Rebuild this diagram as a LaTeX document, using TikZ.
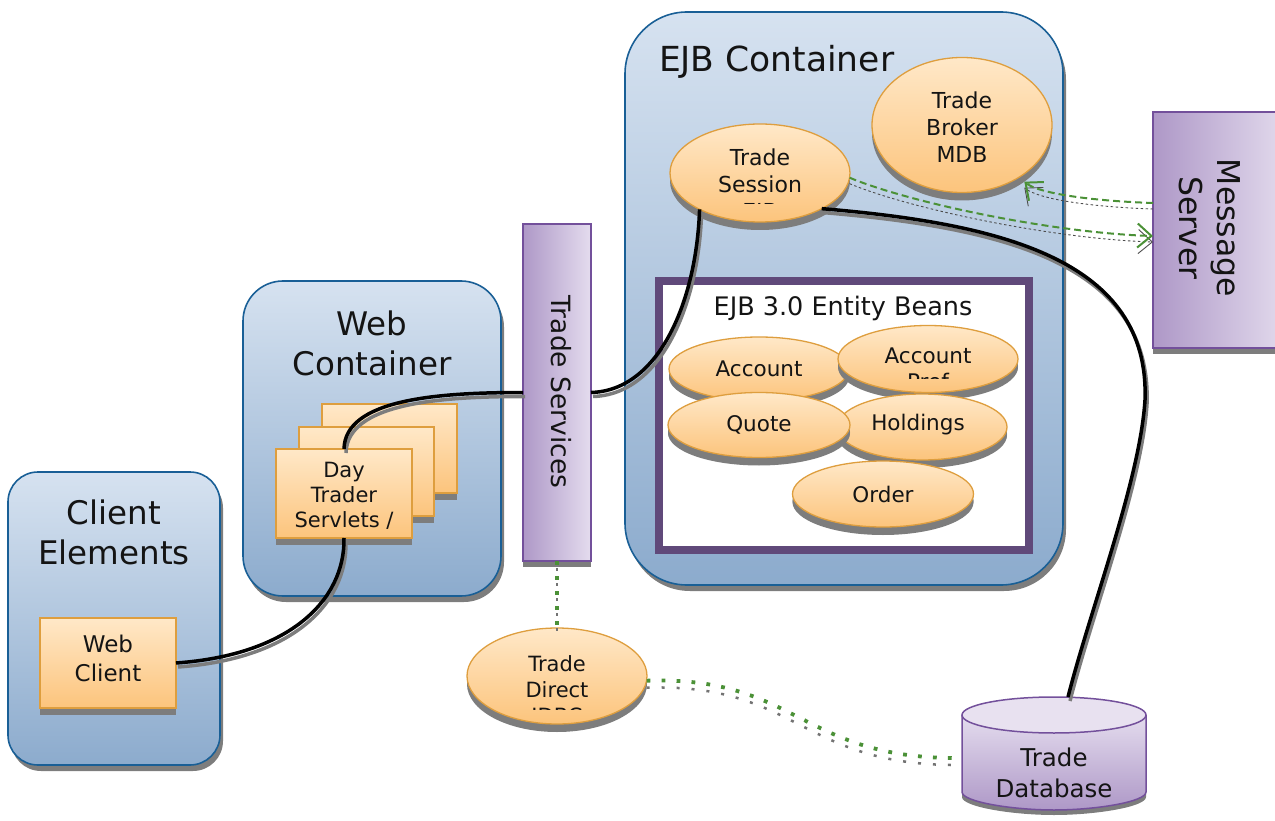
\documentclass[tikz,border=0pt]{standalone}
\usepackage{fontspec}
\setmainfont{DejaVu Sans}
\usetikzlibrary{shapes.geometric,arrows.meta,shadows}
\definecolor{cblueT}{RGB}{214,226,240}
\definecolor{cblueB}{RGB}{140,171,205}
\definecolor{cblueL}{RGB}{25,95,150}
\definecolor{corT}{RGB}{255,232,200}
\definecolor{corB}{RGB}{252,196,124}
\definecolor{corL}{RGB}{222,158,62}
\definecolor{cpuL}{RGB}{174,152,199}
\definecolor{cpuR}{RGB}{228,220,238}
\definecolor{cpuLine}{RGB}{115,80,155}
\definecolor{cframe}{RGB}{96,73,122}
\definecolor{cgreen}{RGB}{75,145,55}
\definecolor{cshad}{RGB}{125,125,125}
\definecolor{ctext}{RGB}{20,20,20}
\begin{document}
\begin{tikzpicture}[x=1pt,y=-1pt,
  every node/.style={inner sep=0pt, outer sep=0pt, text=ctext},
  container/.style={draw=cblueL, line width=1.6pt, top color=cblueT, bottom color=cblueB,
    drop shadow={shadow xshift=3pt,shadow yshift=-6pt,fill=cshad,opacity=1}},
  obox/.style={draw=corL, line width=1.3pt, top color=corT, bottom color=corB,
    drop shadow={shadow xshift=0pt,shadow yshift=-7pt,fill=cshad,opacity=1}},
  oell/.style={ellipse, draw=corL, line width=1.3pt, top color=corT, bottom color=corB,
    drop shadow={shadow xshift=0pt,shadow yshift=-8pt,fill=cshad,opacity=1}},
  bean/.style={oell, drop shadow={shadow xshift=0pt,shadow yshift=-7pt,fill=cshad,opacity=1}},
  pbar/.style={draw=cpuLine, line width=1.3pt, left color=cpuL, right color=cpuR,
    drop shadow={shadow xshift=0pt,shadow yshift=-6pt,fill=cshad,opacity=1}},
  bigtitle/.style={font=\fontsize{32.5}{40}\selectfont, align=center},
  lbl/.style={font=\fontsize{21.5}{26.5}\selectfont, align=center},
  wire/.style={line width=3.5pt, black},
  wireshadow/.style={line width=3.5pt, cshad, transform canvas={xshift=2pt,yshift=-4pt}},
  msgarrow/.style={cgreen, line width=2pt, dash pattern=on 7pt off 4pt,
    -{Straight Barb[length=14pt,width=24pt,line width=2pt]}},
  msgshadow/.style={black!70, line width=0.9pt, dash pattern=on 2.5pt off 2.5pt,
    -{Straight Barb[length=14pt,width=24pt,line width=0.9pt]}, transform canvas={yshift=-6pt}},
  jdbc/.style={cgreen, line width=3.8pt, dash pattern=on 3.8pt off 11.2pt},
  jdbcshadow/.style={black!55, line width=2.5pt, dash pattern=on 3pt off 12pt, transform canvas={yshift=-7pt}}
]
\useasboundingbox (0,0) rectangle (1275,821);

% containers
\node[container, rounded corners=30pt, minimum width=212pt, minimum height=293pt] (client) at (114,618.5) {};
\node[container, rounded corners=40pt, minimum width=258pt, minimum height=315pt] (web) at (372,438.5) {};
\node[container, rounded corners=62pt, minimum width=438pt, minimum height=573pt] (ejb) at (844,298.5) {};

\node[bigtitle] (clienttitle) at (114,532) {Client\\Elements};
\node[bigtitle] (webtitle) at (372,343) {Web\\Container};
\node[font=\fontsize{34.5}{40}\selectfont, anchor=west] (ejbtitle) at (659,62) {EJB Container};

% web client
\node[obox, minimum width=136pt, minimum height=90pt] (webclient) at (108,663) {};
\node[font=\fontsize{23}{29}\selectfont, align=center] (webclienttxt) at (108,658) {Web\\Client};

% servlets
\node[obox, minimum width=135pt, minimum height=89pt] (servback) at (389.5,448.5) {};
\node[obox, minimum width=135pt, minimum height=89pt] (servmid) at (366.5,471.5) {};
\node[obox, minimum width=136pt, minimum height=89pt] (servfront) at (344,493.5) {};
\node[font=\fontsize{21}{25}\selectfont, align=center] (servtxt) at (344,496) {Day\\Trader\\Servlets /};

% trade services
\node[pbar, minimum width=68pt, minimum height=337pt] (services) at (557,392.5) {};
\node[rotate=-90, font=\fontsize{26.5}{30}\selectfont] (servicestxt) at (561,392) {Trade Services};

% trade session & broker
\node[oell, minimum width=180pt, minimum height=98pt] (session) at (760,173) {};
\begin{scope}
  \clip (660,120) rectangle (860,203.5);
  \node[lbl, font=\fontsize{22}{27}\selectfont] (sessiontxt) at (760,186) {Trade\\Session\\EJB};
\end{scope}
\node[oell, minimum width=180pt, minimum height=135pt] (broker) at (962,125) {};
\node[lbl, font=\fontsize{22}{27}\selectfont] (brokertxt) at (962,127) {Trade\\Broker\\MDB};

% entity beans frame
\node[draw=cframe, line width=8pt, fill=white, minimum width=370pt, minimum height=269pt] (beans) at (844,415.5) {};
\node[font=\fontsize{25.5}{30}\selectfont] (beanstitle) at (843,308) {EJB 3.0 Entity Beans};

\node[bean, minimum width=180pt, minimum height=64pt, lbl] (account) at (759,369) {Account};
\node[bean, minimum width=180pt, minimum height=67pt] (accountpref) at (928,359) {};
\begin{scope}
  \clip (830,320) rectangle (1030,378);
  \node[lbl] (accountpreftxt) at (928,369) {Account\\Pref};
\end{scope}
\node[bean, minimum width=170pt, minimum height=66pt] (holdings) at (922,427) {};
\node[lbl] (holdingstxt) at (918,425) {Holdings};
\node[bean, minimum width=182pt, minimum height=65pt, lbl] (quote) at (759,425) {Quote};
\node[bean, minimum width=181pt, minimum height=66pt, lbl] (order) at (883,494) {Order};

% message server
\node[pbar, minimum width=137pt, minimum height=236pt] (msg) at (1221.5,230) {};
\node[rotate=-90, font=\fontsize{31.5}{38}\selectfont, align=center] (msgtxt) at (1210,228) {Message\\Server};

% trade direct
\node[oell, minimum width=180pt, minimum height=96pt] (direct) at (557,676) {};
\begin{scope}
  \clip (460,620) rectangle (660,709.5);
  \node[lbl, font=\fontsize{21}{26}\selectfont] (directtxt) at (557,692) {Trade\\Direct\\JDBC};
\end{scope}

% trade database (cylinder)
\fill[cshad] (962,720) -- (962,797) .. controls (962,806.94) and (1012.8,815) .. (1054,815)
  .. controls (1095.2,815) and (1146,806.94) .. (1146,797) -- (1146,720) -- cycle;
\shade[top color=cpuR, bottom color=cpuL] (962,715) -- (962,792) .. controls (962,801.94) and (1012.8,810) .. (1054,810)
  .. controls (1095.2,810) and (1146,801.94) .. (1146,792) -- (1146,715) -- cycle;
\fill[cpuR!85!white] (1054,715) ellipse [x radius=92, y radius=18];
\draw[cpuLine, line width=1.5pt] (962,715) -- (962,792) .. controls (962,801.94) and (1012.8,810) .. (1054,810)
  .. controls (1095.2,810) and (1146,801.94) .. (1146,792) -- (1146,715);
\draw[cpuLine, line width=1.5pt] (1054,715) ellipse [x radius=92, y radius=18];
\node[font=\fontsize{24.5}{31}\selectfont, align=center] (db) at (1054,772.5) {Trade\\Database};
\coordinate (dbtop) at (1068,697);
\coordinate (dbleft) at (962,758);
\coordinate (bend) at (1145,400);

% wires
\draw[wireshadow] (webclient.east) .. controls +(114,-8) and +(1,62) .. (servfront.south);
\draw[wire] (webclient.east) .. controls +(114,-8) and +(1,62) .. (servfront.south);
\draw[wireshadow] (servfront.north) .. controls +(1,-50) and +(-85,0) .. (services.west);
\draw[wire] (servfront.north) .. controls +(1,-50) and +(-85,0) .. (services.west);
\draw[wireshadow] (services.east) .. controls +(69,-2) and +(-3,90) .. (session.211);
\draw[wire] (services.east) .. controls +(69,-2) and +(-3,90) .. (session.211);
\draw[wireshadow] (session.330) .. controls +(180,15) and +(5,-140) .. (bend) .. controls +(-5,80) and +(22,-87) .. (dbtop);
\draw[wire] (session.330) .. controls +(180,15) and +(5,-140) .. (bend) .. controls +(-5,80) and +(22,-87) .. (dbtop);

% message arrows
\draw[msgshadow] (session.-3) .. controls +(60,25) and +(-100,-3) .. ([yshift=-6pt]msg.west);
\draw[msgarrow] (session.-3) .. controls +(60,25) and +(-100,-3) .. ([yshift=-6pt]msg.west);
\draw[msgshadow] ([yshift=27pt]msg.west) .. controls +(-60,-2) and +(15,12) .. ([yshift=-8pt]broker.322);
\draw[msgarrow] ([yshift=27pt]msg.west) .. controls +(-60,-2) and +(15,12) .. ([yshift=-8pt]broker.322);

% jdbc dotted links
\draw[jdbcshadow] (services.south) -- (direct.north);
\draw[jdbc] (services.south) -- (direct.north);
\draw[jdbcshadow] (direct.-3) .. controls +(152,-5) and +(-162,2) .. (dbleft);
\draw[jdbc] (direct.-3) .. controls +(152,-5) and +(-162,2) .. (dbleft);
\end{tikzpicture}
\end{document}
